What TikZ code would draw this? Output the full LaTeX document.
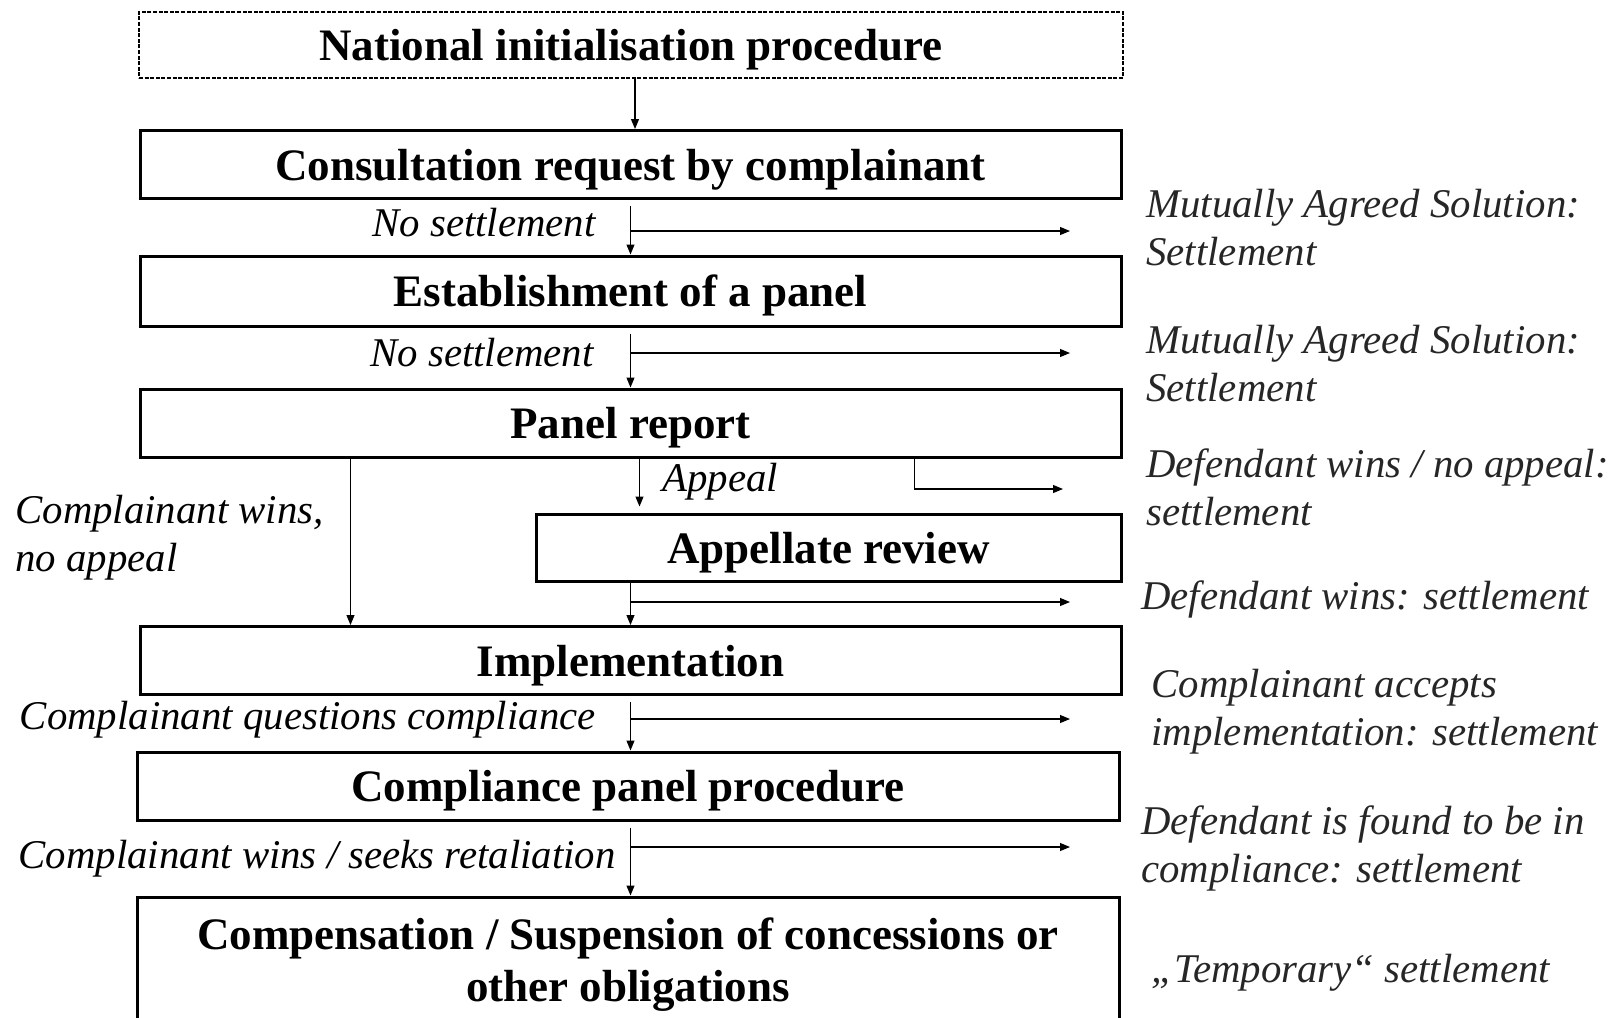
\documentclass[tikz,border=0pt]{standalone}
\usepackage{fontspec}
\setmainfont{Liberation Serif}[ItalicFont={Liberation Serif Italic}, BoldFont={Liberation Serif Bold}]
\usetikzlibrary{arrows.meta,calc}

\begin{document}
\begin{tikzpicture}[x=0.5pt, y=-0.5pt,
  stage/.style={draw, line width=1.5pt, inner sep=0pt, text depth=0pt, minimum height=34pt, minimum width=490.5pt, align=center, font=\fontsize{22.5}{26}\selectfont\bfseries},
  flow/.style={line width=0.55pt, -{Triangle[length=5pt,width=4pt]}},
  lbl/.style={inner sep=0pt, font=\fontsize{20.4}{24}\selectfont\itshape},
  note/.style={lbl, anchor=west, align=left, text=black!85}]
	\useasboundingbox (0,0) rectangle (1619,1018);
	\clip (0,0) rectangle (1619,1018);
	\node[stage, line width=0.6pt, dash pattern=on 2pt off 0.8pt, minimum width=492pt, minimum height=33pt] (nat) at (631,45) {National initialisation procedure};
	\node[stage] (cons) at (630.5,164.5) {Consultation request by complainant};
	\node[stage, minimum height=35pt] (est) at (630.5,291) {Establishment of a panel};
	\node[stage] (rep) at (630.5,423) {Panel report};
	\node[stage, minimum width=292.5pt, minimum height=33.5pt] (app) at (828.5,547.5) {Appellate review};
	\node[stage] (impl) at (630.5,660.5) {Implementation};
	\node[stage, minimum width=491pt] (cpp) at (628,786) {Compliance panel procedure};
	\node[stage, minimum width=491pt, minimum height=63pt] (comps) at (628,960) {Compensation / Suspension of concessions or\\other obligations};
	% labels on the main line
	\node[lbl, anchor=east] (ns1) at (596,223) {No settlement};
	\node[lbl, anchor=east] (ns2) at (594,353) {No settlement};
	\node[lbl, anchor=west] (appeal) at (662,482) {Appeal};
	\node[lbl, anchor=west, align=left] (cwins) at (15,538) {Complainant wins,\\no appeal};
	\node[lbl, anchor=east] (cquest) at (596,720) {Complainant questions compliance};
	\node[lbl, anchor=east] (cseeks) at (616,859) {Complainant wins / seeks retaliation};
	% settlements
	\node[note] (mas1) at (1146,228) {Mutually Agreed Solution:\\Settlement};
	\node[note] (mas2) at (1146,364) {Mutually Agreed Solution:\\Settlement};
	\node[note] (dwna) at (1146,487) {Defendant wins / no appeal:\\settlement};
	\node[note] (dw) at (1141,599) {Defendant wins: settlement};
	\node[note] (cacc) at (1151,712) {Complainant accepts\\implementation: settlement};
	\node[note] (dfound) at (1141,848) {Defendant is found to be in\\compliance: settlement};
	\node[note] (temp) at (1151,973) {„Temporary“ settlement};
	\coordinate (r1) at (1070,231);
	\coordinate (r2) at (1070,353);
	\coordinate (r3) at (1063,489);
	\coordinate (r4) at (1070,602);
	\coordinate (r5) at (1070,719);
	\coordinate (r6) at (1070,847);
	\coordinate (p0) at ([xshift=2pt]nat.south);
	\coordinate (pa) at ([xshift=4.5pt]rep.south);
	\coordinate (pb) at ([xshift=142pt]rep.south);
	\coordinate (pc) at ([xshift=-140pt]rep.south);
	\draw[flow] (p0) -- (p0 |- cons.north);
	\draw[flow] ([yshift=-3pt]cons.south) -- (est.north);
	\draw[flow] (cons.south |- r1) -- (r1);
	\draw[flow] ([yshift=-3pt]est.south) -- (rep.north);
	\draw[flow] (est.south |- r2) -- (r2);
	\draw[flow] (pa) -- ([yshift=3pt]pa |- app.north);
	\draw[flow] (pb) |- (r3);
	\draw[flow] (pc) -- (pc |- impl.north);
	\draw[flow] (app.south -| impl.north) -- (impl.north);
	\draw[flow] (impl.north |- r4) -- (r4);
	\draw[flow] ([yshift=-3pt]impl.south) -- (impl.south |- cpp.north);
	\draw[flow] (impl.south |- r5) -- (r5);
	\draw[flow] ([yshift=-3pt]impl.south |- cpp.south) -- (impl.south |- comps.north);
	\draw[flow] (impl.south |- r6) -- (r6);
\end{tikzpicture}
\end{document}
